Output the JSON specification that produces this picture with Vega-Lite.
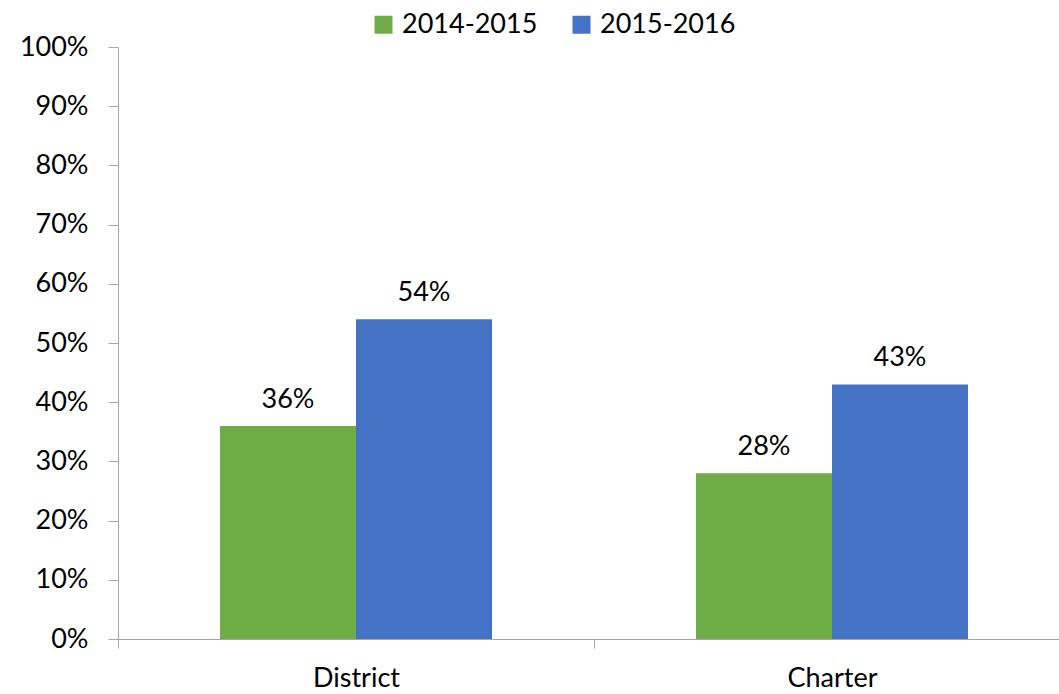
{
  "$schema": "https://vega.github.io/schema/vega-lite/v6.json",
  "width": 941,
  "height": 592,
  "autosize": {"type": "none"},
  "padding": {"left": 118, "top": 47, "right": 0, "bottom": 55},
  "config": {
    "font": "Lato",
    "view": {"stroke": null},
    "axis": {
      "domainColor": "#A6A6A6",
      "tickColor": "#A6A6A6",
      "domainWidth": 1,
      "tickWidth": 1,
      "labelColor": "#000000",
      "labelFontSize": 27,
      "labelFont": "Lato",
      "grid": false,
      "title": null
    },
    "legend": {
      "labelFontSize": 27,
      "labelFont": "Lato",
      "labelColor": "#000000",
      "padding": 0
    }
  },
  "data": {
    "values": [
      {"school": "District", "year": "2014-2015", "value": 0.36},
      {"school": "District", "year": "2015-2016", "value": 0.54},
      {"school": "Charter", "year": "2014-2015", "value": 0.28},
      {"school": "Charter", "year": "2015-2016", "value": 0.43}
    ]
  },
  "encoding": {
    "x": {
      "field": "school",
      "type": "nominal",
      "sort": ["District", "Charter"],
      "scale": {"range": [0, 952], "paddingInner": 0.4286, "paddingOuter": 0.2143},
      "axis": {
        "labelAngle": 0,
        "tickSize": 9,
        "tickOffset": -238,
        "labelOffset": 238,
        "labelPadding": 17,
        "labelBaseline": "top"
      }
    },
    "xOffset": {
      "field": "year",
      "type": "nominal",
      "sort": ["2014-2015", "2015-2016"],
      "scale": {"paddingInner": 0, "paddingOuter": 0}
    },
    "y": {
      "field": "value",
      "type": "quantitative",
      "scale": {"domain": [0, 1], "nice": false},
      "axis": {
        "values": [0, 0.1, 0.2, 0.3, 0.4, 0.5, 0.6, 0.7, 0.8, 0.9, 1],
        "format": ".0%",
        "tickSize": 10,
        "labelPadding": 20
      }
    }
  },
  "layer": [
    {
      "mark": {"type": "bar"},
      "encoding": {
        "color": {
          "field": "year",
          "type": "nominal",
          "scale": {"domain": ["2014-2015", "2015-2016"], "range": ["#70AD47", "#4472C4"]},
          "legend": {
            "title": null,
            "orient": "none",
            "direction": "horizontal",
            "legendX": 252,
            "legendY": -36,
            "symbolType": "square",
            "symbolSize": 324,
            "symbolStrokeWidth": 0,
            "symbolOpacity": 1,
            "labelOffset": 5,
            "columnPadding": 30
          }
        }
      }
    },
    {
      "mark": {"type": "text", "baseline": "alphabetic", "dy": -18, "fontSize": 27, "font": "Lato", "color": "#000000"},
      "encoding": {
        "text": {"field": "value", "type": "quantitative", "format": ".0%"}
      }
    }
  ]
}
